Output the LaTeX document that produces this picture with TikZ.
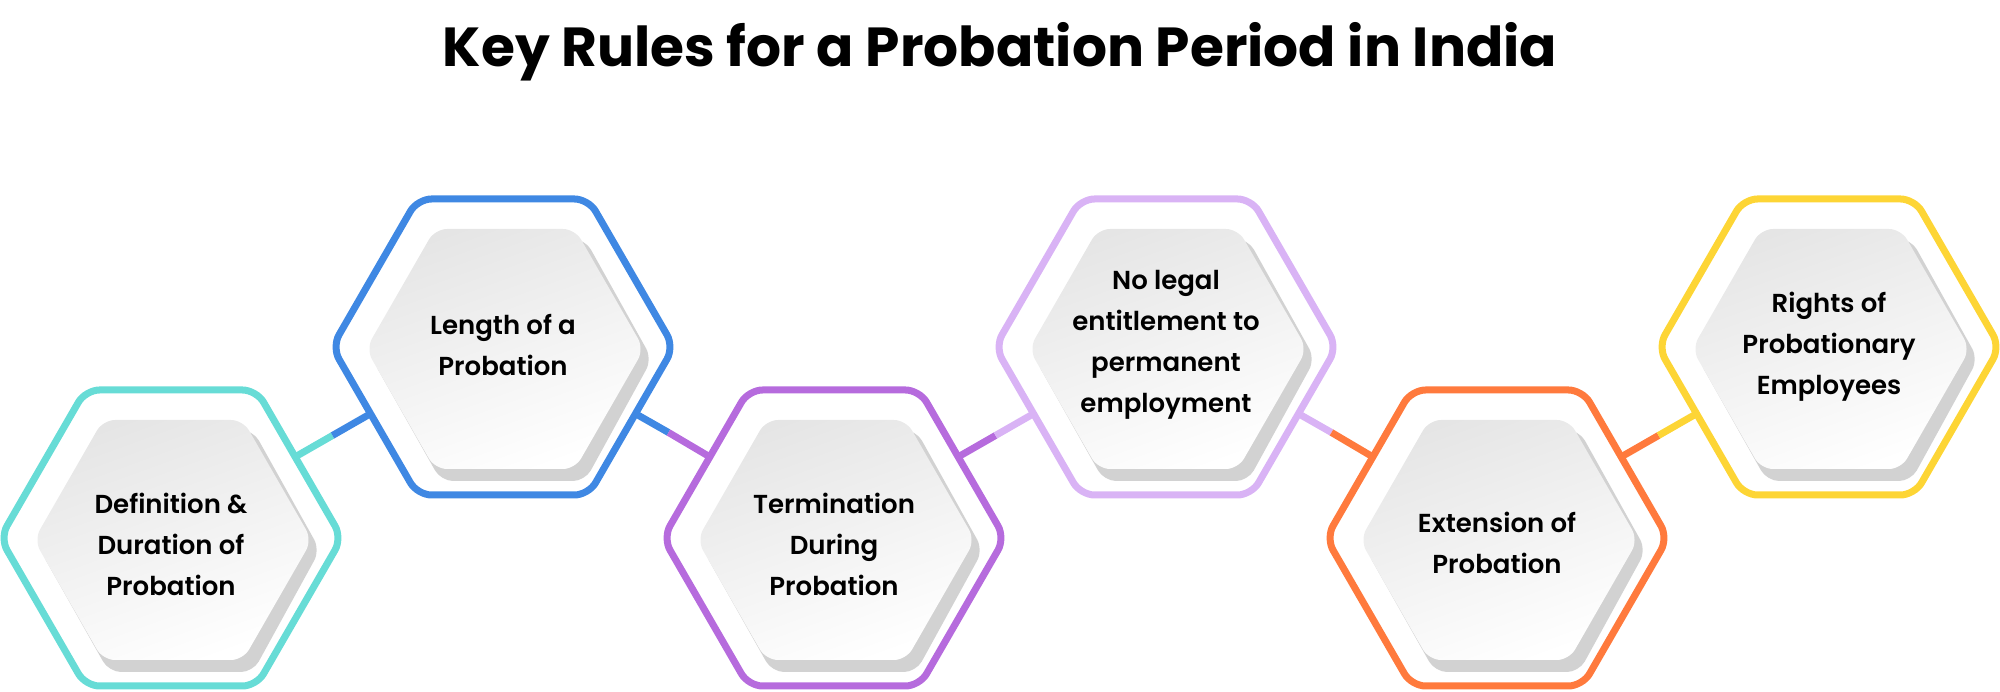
\documentclass[tikz,border=0pt]{standalone}
\usepackage{fontspec}
\setmainfont{Poppins}[BoldFont={Poppins Bold}]
\newfontfamily\labelfont{Poppins SemiBold}
\usetikzlibrary{calc}
\definecolor{cTeal}{HTML}{67DCD6}
\definecolor{cBlue}{HTML}{3F88E3}
\definecolor{cPurple}{HTML}{B66BDD}
\definecolor{cViolet}{HTML}{D9B3F5}
\definecolor{cOrange}{HTML}{FF7A3D}
\definecolor{cYellow}{HTML}{FDD535}
\tikzset{
  hexline/.style={line width=7pt, rounded corners=14pt},
  conn/.style={line width=7pt},
  lbl/.style={font=\labelfont\fontsize{26}{41}\selectfont, align=center, text=black},
}
% #1 centre, #2 colour
\newcommand{\hexagonat}[2]{%
  \begin{scope}[shift={#1}]
    \fill[gray!35, rounded corners=12pt] (-131,-12) -- (-62,-134) -- (82,-134) -- (149,-12) -- (82,108) -- (-62,108) -- cycle;
    \shade[top color=gray!20, bottom color=white, shading angle=20, rounded corners=12pt] (-137,-2) -- (-68,-122) -- (72,-122) -- (141,-2) -- (72,118) -- (-68,118) -- cycle;
    \draw[hexline, #2] (-171,0) -- (-85.5,-148) -- (85.5,-148) -- (171,0) -- (85.5,148) -- (-85.5,148) -- cycle;
  \end{scope}}
\begin{document}
\begin{tikzpicture}[x=1pt,y=1pt]
\useasboundingbox (0,0) rectangle (2000,692);
\node[font=\bfseries\fontsize{55}{60}\selectfont] (title) at (1000,640) {Key Rules for a Probation Period in India};
% centres
\coordinate (c1) at (171,154);
\coordinate (c2) at (503,345);
\coordinate (c3) at (834,154);
\coordinate (c4) at (1166,345);
\coordinate (c5) at (1497,154);
\coordinate (c6) at (1829,345);
% connectors
\draw[conn, cTeal] ($(c1)+(124,81)$) coordinate (a1) -- ($(c1)+(161.5,102.5)$) coordinate (m1);
\draw[conn, cBlue] (m1) -- ($(c2)+(-133,-67)$);
\draw[conn, cBlue] ($(c2)+(133,-67)$) -- ($(c2)+(165.5,-85.5)$) coordinate (m2);
\draw[conn, cPurple] (m2) -- ($(c3)+(-124,81)$);
\draw[conn, cPurple] ($(c3)+(124,81)$) -- ($(c3)+(161.5,102.5)$) coordinate (m3);
\draw[conn, cViolet] (m3) -- ($(c4)+(-133,-67)$);
\draw[conn, cViolet] ($(c4)+(133,-67)$) -- ($(c4)+(165.5,-85.5)$) coordinate (m4);
\draw[conn, cOrange] (m4) -- ($(c5)+(-124,81)$);
\draw[conn, cOrange] ($(c5)+(124,81)$) -- ($(c5)+(161.5,102.5)$) coordinate (m5);
\draw[conn, cYellow] (m5) -- ($(c6)+(-133,-67)$);
% hexagons
\hexagonat{(c1)}{cTeal}
\hexagonat{(c2)}{cBlue}
\hexagonat{(c3)}{cPurple}
\hexagonat{(c4)}{cViolet}
\hexagonat{(c5)}{cOrange}
\hexagonat{(c6)}{cYellow}
% labels
\node[lbl] (h1) at ($(c1)+(0,-6)$) {Definition \&\\Duration of\\Probation};
\node[lbl] (h2) at ($(c2)+(0,2)$) {Length of a\\Probation};
\node[lbl] (h3) at ($(c3)+(0,-6)$) {Termination\\During\\Probation};
\node[lbl] (h4) at ($(c4)+(0,2)$) {No legal\\entitlement to\\permanent\\employment};
\node[lbl] (h5) at ($(c5)+(0,-5)$) {Extension of\\Probation};
\node[lbl] (h6) at ($(c6)+(0,0)$) {Rights of\\Probationary\\Employees};
\end{tikzpicture}
\end{document}
